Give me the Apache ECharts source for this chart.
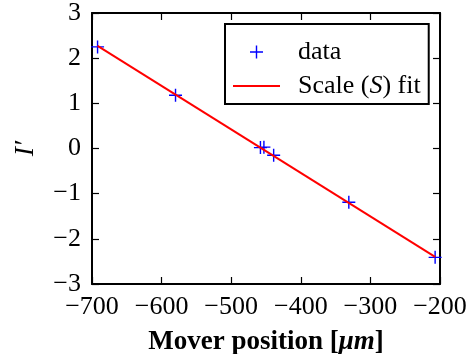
<!DOCTYPE html>
<html>
<head>
<meta charset="utf-8">
<script src="https://cdn.jsdelivr.net/npm/echarts@6/dist/echarts.min.js"></script>
<style>
  html, body { margin: 0; padding: 0; background: #fff; }
  #chart { width: 471px; height: 354px; }
</style>
</head>
<body>
<div id="chart"></div>
<script>
// Measured mover positions [um] and the normalised response I'
var moverPos = [-692, -580, -458, -453, -439, -331, -207];
var responseI = [2.25, 1.18, 0.02, 0.03, -0.15, -1.19, -2.41];

// Scale (S) fit evaluated at the ends of the measured range
var fitPos = [-692, -207];
var fitI = [2.27, -2.40];

// Axis ranges and tick steps
var xRange = [-700, -200], xStep = 100;
var yRange = [-3, 3], yStep = 1;

var FONT = 'Liberation Serif';
var minus = function (v) { return String(v).replace('-', '\u2212'); };

// Thin plus-shaped marker and a short line sample for the legend
var plus = 'path://M5.35,0H6.65V5.35H12V6.65H6.65V12H5.35V6.65H0V5.35H5.35Z';
var dash = 'path://M0,0H47V2H0Z';

var axisCommon = {
  axisLine: { show: true, onZero: false, lineStyle: { color: '#000', width: 2 } },
  axisTick: { show: true, inside: true, length: 7, lineStyle: { color: '#000', width: 1.2 } },
  splitLine: { show: false }
};

function xAx(pos, labels) {
  return Object.assign({}, axisCommon, {
    type: 'value', position: pos, min: xRange[0], max: xRange[1], interval: xStep,
    axisLabel: { show: labels, margin: 10, color: '#000', fontFamily: FONT, fontSize: 26, formatter: minus },
    name: labels ? 'Mover position [{i|\u03bcm}]' : '',
    nameLocation: 'middle', nameGap: 45,
    nameTextStyle: {
      color: '#000', fontFamily: FONT, fontSize: 27, fontWeight: 'bold',
      rich: { i: { fontFamily: FONT, fontSize: 27, fontStyle: 'italic', color: '#000' } }
    }
  });
}
function yAx(pos, labels) {
  return Object.assign({}, axisCommon, {
    type: 'value', position: pos, min: yRange[0], max: yRange[1], interval: yStep,
    axisLabel: { show: labels, margin: 11, color: '#000', fontFamily: FONT, fontSize: 26, formatter: minus },
    name: labels ? 'I\u2032' : '',
    nameLocation: 'middle', nameGap: 52, nameRotate: 90,
    nameTextStyle: { color: '#000', fontFamily: FONT, fontSize: 28, fontStyle: 'italic' }
  });
}

var chart = echarts.init(document.getElementById('chart'), null, { renderer: 'canvas' });
chart.setOption({
  animation: false,
  backgroundColor: '#fff',
  grid: { left: 92, right: 31, top: 13, bottom: 70, containLabel: false, outerBoundsMode: 'none' },
  xAxis: [xAx('bottom', true), xAx('top', false)],
  yAxis: [yAx('left', true), yAx('right', false)],
  legend: {
    left: 225, top: 24, orient: 'vertical',
    padding: [15, 8, 5, 8],
    itemWidth: 47, itemHeight: 13, itemGap: 8,
    borderColor: '#000', borderWidth: 2, borderRadius: 0,
    data: [
      { name: 'data', icon: plus, itemStyle: { color: '#0000ff' } },
      { name: 'fit', icon: dash, itemStyle: { color: '#ff0000' } }
    ],
    formatter: function (n) { return n === 'fit' ? 'Scale ({i|S}) fit' : 'data'; },
    textStyle: {
      color: '#000', fontFamily: FONT, fontSize: 26, lineHeight: 26, padding: [0, 0, 0, 13],
      rich: { i: { fontFamily: FONT, fontSize: 26, fontStyle: 'italic', color: '#000' } }
    }
  },
  series: [
    {
      name: 'data', type: 'scatter',
      symbol: plus, symbolSize: 13,
      itemStyle: { color: '#0000ff', opacity: 1 },
      data: moverPos.map(function (x, i) { return [x, responseI[i]]; }),
      z: 2
    },
    {
      name: 'fit', type: 'line',
      symbol: 'none', showSymbol: false,
      lineStyle: { color: '#ff0000', width: 2 },
      itemStyle: { color: '#ff0000' },
      data: fitPos.map(function (x, i) { return [x, fitI[i]]; }),
      z: 3
    }
  ]
});
</script>
</body>
</html>
